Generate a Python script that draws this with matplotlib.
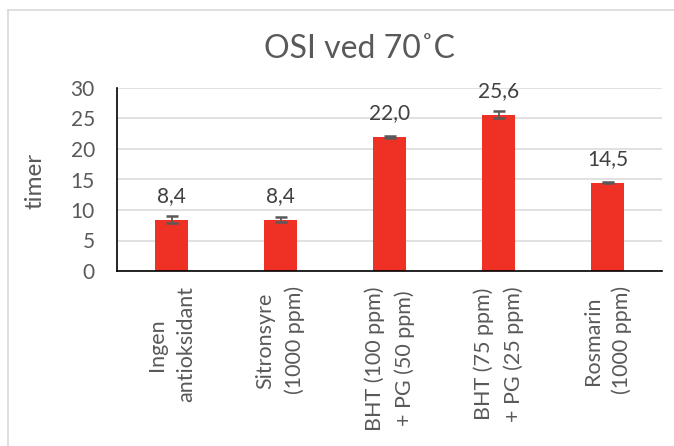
import matplotlib
matplotlib.use("Agg")
import matplotlib.pyplot as plt
from matplotlib.lines import Line2D

plt.rcParams['font.family'] = ['Lato', 'DejaVu Sans']

categories = ["Ingen\nantioksidant", "Sitronsyre\n(1000 ppm)", "BHT (100 ppm)\n+ PG (50 ppm)",
              "BHT (75 ppm)\n+ PG (25 ppm)", "Rosmarin\n(1000 ppm)"]
values = [8.4, 8.4, 22.0, 25.6, 14.5]
errors = [0.6, 0.4, 0.15, 0.55, 0.15]
value_labels = ["8,4", "8,4", "22,0", "25,6", "14,5"]
yticks = [0, 5, 10, 15, 20, 25, 30]

TXT = "#595959"
W, H = 674, 446
fig = plt.figure(figsize=(W / 100, H / 100), dpi=100)
ax = fig.add_axes([117 / W, 1 - 271 / H, 545 / W, 183 / H])

x = list(range(len(categories)))
ax.bar(x, values, width=0.31, color="#EE3124", zorder=3,
       yerr=errors, error_kw=dict(ecolor=TXT, elinewidth=1.3, capsize=4.3, capthick=1.8, zorder=4))

for xi, v, lab in zip(x, values, value_labels):
    ax.annotate(lab, (xi, v), xytext=(0, 12.5), textcoords="offset points",
                ha="center", va="baseline", fontsize=15, color="#404040")

ax.set_xlim(-0.5, len(categories) - 0.5)
ax.set_ylim(0, 30)
ax.set_yticks(yticks)
ax.set_yticklabels([str(t) for t in yticks])
ax.tick_params(axis="y", length=0, pad=16, labelsize=15, labelcolor=TXT)
ax.set_xticks(x)
ax.set_xticklabels(categories, rotation=90, ha="center", va="top", multialignment="center",
                   linespacing=1.55)
ax.tick_params(axis="x", length=0, pad=11, labelsize=15.5, labelcolor=TXT)

ax.yaxis.grid(True, color="#D9D9D9", linewidth=1.1, zorder=0)
ax.set_axisbelow(True)
for s in ["top", "right"]:
    ax.spines[s].set_visible(False)
for s in ["left", "bottom"]:
    ax.spines[s].set_color("black")
    ax.spines[s].set_linewidth(1.2)
    ax.spines[s].set_zorder(5)

fig.text(360 / W, 1 - 58 / H, "OSI ved 70˚C", ha="center", va="baseline", fontsize=23, color=TXT)
fig.text(35 / W, 1 - 181 / H, "timer", rotation=90, ha="center", va="center", fontsize=17.5, color=TXT)

# outer chart border (top and left visible)
fig.add_artist(Line2D([7.5 / W, 7.5 / W], [0, 1 - 10 / H], color="#D9D9D9", linewidth=1.2))
fig.add_artist(Line2D([7.5 / W, 1], [1 - 10 / H, 1 - 10 / H], color="#D9D9D9", linewidth=1.2))

fig.savefig("out.png", dpi=100, facecolor="white")
